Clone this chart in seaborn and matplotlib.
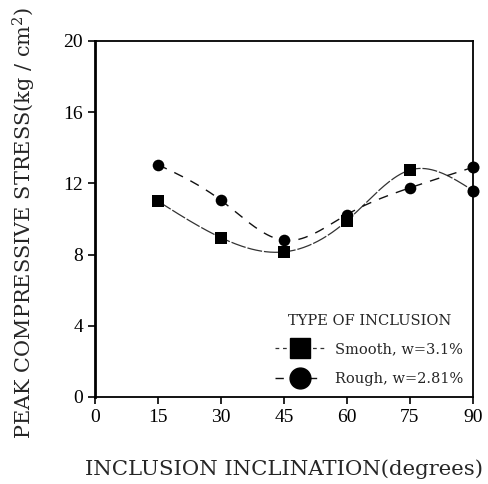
import numpy as np
import pandas as pd
import matplotlib
matplotlib.use("Agg")
import matplotlib.pyplot as plt
from matplotlib.lines import Line2D
import seaborn as sns

# Measured peak compressive stress (kg/cm^2) versus inclusion inclination
angles = [15, 30, 45, 60, 75, 90]
smooth_stress = [11.0, 8.95, 8.15, 9.9, 12.75, 11.6]
rough_stress = [13.05, 11.05, 8.8, 10.25, 11.75, 12.9]
series_names = ["Smooth, w=3.1%", "Rough, w=2.81%"]
x_ticks = [0, 15, 30, 45, 60, 75, 90]
y_ticks = [0, 4, 8, 12, 16, 20]


def natural_spline(x, y, n=200):
    """Natural cubic spline through the measured points, for the fitted curve."""
    x = np.asarray(x, float)
    y = np.asarray(y, float)
    k = len(x)
    h = np.diff(x)
    A = np.zeros((k, k))
    b = np.zeros(k)
    A[0, 0] = A[-1, -1] = 1.0
    for i in range(1, k - 1):
        A[i, i - 1] = h[i - 1]
        A[i, i] = 2 * (h[i - 1] + h[i])
        A[i, i + 1] = h[i]
        b[i] = 6 * ((y[i + 1] - y[i]) / h[i] - (y[i] - y[i - 1]) / h[i - 1])
    M = np.linalg.solve(A, b)
    xs = np.linspace(x[0], x[-1], n)
    idx = np.clip(np.searchsorted(x, xs) - 1, 0, k - 2)
    x0, x1 = x[idx], x[idx + 1]
    hh = x1 - x0
    t0, t1 = x1 - xs, xs - x0
    ys = (M[idx] * t0 ** 3 + M[idx + 1] * t1 ** 3) / (6 * hh) \
        + (y[idx] / hh - M[idx] * hh / 6) * t0 \
        + (y[idx + 1] / hh - M[idx + 1] * hh / 6) * t1
    return xs, ys


sns.set_style("ticks")
plt.rcParams["font.family"] = ["DejaVu Serif"]
plt.rcParams["mathtext.fontset"] = "dejavuserif"

fig = plt.figure(figsize=(4.89, 4.84), dpi=100)
ax = fig.add_axes([0.1943, 0.1798, 0.7727, 0.7355])

styles = {
    series_names[0]: dict(ls=(0, (12, 1.5)), lw=0.9, color="#333333", marker="s"),
    series_names[1]: dict(ls=(0, (7, 6)), lw=1.0, color="#111111", marker="o"),
}

for name, vals in zip(series_names, [smooth_stress, rough_stress]):
    xs, ys = natural_spline(angles, vals)
    curve = pd.DataFrame({"angle": xs, "stress": ys})
    st = styles[name]
    sns.lineplot(data=curve, x="angle", y="stress", ax=ax, color=st["color"],
                 lw=st["lw"], linestyle=st["ls"], legend=False, sort=False)
    pts = pd.DataFrame({"angle": angles, "stress": vals})
    # the point sitting on the right frame is drawn with a round symbol
    on_edge = pts["angle"] >= 90
    sns.scatterplot(data=pts[~on_edge], x="angle", y="stress", ax=ax,
                    marker=st["marker"], s=70, color="black", edgecolor="black",
                    linewidth=0, legend=False, clip_on=False, zorder=5)
    sns.scatterplot(data=pts[on_edge], x="angle", y="stress", ax=ax,
                    marker="o", s=75, color="black", edgecolor="black",
                    linewidth=0, legend=False, clip_on=False, zorder=5)

ax.set_xlim(0, 90)
ax.set_ylim(0, 20)
ax.set_xticks(x_ticks)
ax.set_yticks(y_ticks)
ax.tick_params(axis="both", direction="out", length=5, width=1.2,
               labelsize=14, color="black", labelcolor="black")
for lab in ax.get_xticklabels() + ax.get_yticklabels():
    lab.set_family("Liberation Serif")
for side in ["left", "bottom", "top", "right"]:
    ax.spines[side].set_visible(True)
    ax.spines[side].set_color("black")
    ax.spines[side].set_linewidth(1.3)
ax.spines["left"].set_linewidth(2.0)

ax.set_xlabel("INCLUSION INCLINATION(degrees)", fontsize=15.3, labelpad=24)
ax.set_ylabel("PEAK COMPRESSIVE STRESS(kg / cm$^2$)", fontsize=15, labelpad=14)
ax.yaxis.set_label_coords(-0.15, 0.49)

handles = [
    Line2D([], [], color="#333333", lw=0.9, ls=(0, (3, 3)), marker="s",
           markersize=14, markerfacecolor="black", markeredgecolor="black"),
    Line2D([], [], color="#111111", lw=1.0, ls=(0, (6, 6)), marker="o",
           markersize=15, markerfacecolor="black", markeredgecolor="black"),
]
leg = ax.legend(handles, series_names, title="TYPE OF INCLUSION", loc="lower right",
                bbox_to_anchor=(1.01, -0.005), frameon=False, fontsize=10.5,
                title_fontsize=10.5, handlelength=3.4, labelspacing=1.05,
                handletextpad=0.7)
leg._legend_box.align = "center"
leg._legend_box.sep = 10

fig.savefig("out.png", dpi=100, facecolor="white")
